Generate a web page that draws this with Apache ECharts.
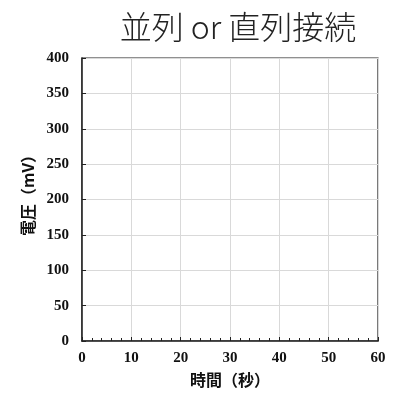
<!DOCTYPE html>
<html>
<head>
<meta charset="utf-8">
<script src="https://cdn.jsdelivr.net/npm/echarts@6/dist/echarts.min.js"></script>
<style>
  html, body { margin: 0; padding: 0; background: #fff; }
  #chart { width: 400px; height: 414px; }
</style>
</head>
<body>
<div id="chart"></div>
<script>
'use strict';

// ---- data (template chart: no measurements yet) ----
const timeSec = [];      // 時間（秒）
const voltageMv = [];    // 電圧（mV）
const xRange = [0, 60];
const yRange = [0, 400];

const serif = { fontFamily: 'Liberation Serif', fontWeight: 'bold', fontSize: 15, color: '#111' };
const cjk = "'Noto Sans CJK JP', 'Noto Sans CJK SC', sans-serif";

const chart = echarts.init(document.getElementById('chart'));
chart.setOption({
  animation: false,
  title: {
    text: '並列 or 直列接続', left: 233, top: 6, textAlign: 'center',
    textStyle: { fontFamily: cjk, fontSize: 32, fontWeight: 300, color: '#222' }
  },
  grid: { left: 82, right: 22, top: 58, bottom: 73, show: true, borderColor: '#222', borderWidth: 1.2, containLabel: false },
  xAxis: {
    type: 'value', min: xRange[0], max: xRange[1], interval: 10,
    name: '時間（秒）', nameLocation: 'middle', nameGap: 31,
    nameTextStyle: { fontFamily: cjk, fontWeight: 'bold', fontSize: 16, color: '#111' },
    axisLine: { show: true, lineStyle: { color: '#222', width: 1.5 } },
    axisTick: { show: true, inside: true, length: 4, lineStyle: { color: '#222' } },
    minorTick: { show: true, splitNumber: 5, length: 3, lineStyle: { color: '#222' } },
    axisLabel: { ...serif, margin: 10 },
    splitLine: { show: true, lineStyle: { color: '#d9d9d9' } }
  },
  yAxis: {
    type: 'value', min: yRange[0], max: yRange[1], interval: 50,
    name: '電圧（mV）', nameLocation: 'middle', nameGap: 44, nameRotate: 90,
    nameTextStyle: { fontFamily: cjk, fontWeight: 'bold', fontSize: 16, color: '#111', padding: [0, 0, 0, 16] },
    axisLine: { show: true, lineStyle: { color: '#222', width: 1.5 } },
    axisTick: { show: true, inside: true, length: 4, lineStyle: { color: '#222' } },
    axisLabel: { ...serif, margin: 13 },
    splitLine: { show: true, lineStyle: { color: '#d9d9d9' } }
  },
  series: [{
    type: 'line', symbol: 'none',
    data: timeSec.map((t, i) => [t, voltageMv[i]])
  }]
});
</script>
</body>
</html>
